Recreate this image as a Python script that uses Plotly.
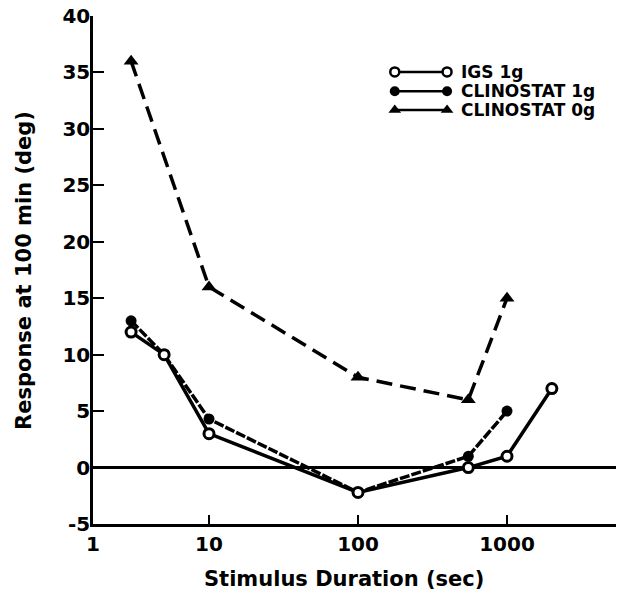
import plotly.graph_objects as go

# ---- data ----
x_igs = [3, 5, 10, 100, 550, 1000, 2000]
y_igs = [12, 10, 3, -2.2, 0, 1, 7]

x_c1 = [3, 5, 10, 100, 550, 1000]
y_c1 = [13, 10, 4.3, -2.2, 1, 5]

x_c0 = [3, 10, 100, 550, 1000]
y_c0 = [36, 16, 8, 6, 15]

legend_names = ["IGS 1g", "CLINOSTAT 1g", "CLINOSTAT 0g"]
y_ticks = [-5, 0, 5, 10, 15, 20, 25, 30, 35, 40]
y_tick_text = ["-5", "0", "5", "10", "15", "20", "25", "30", "35", "40"]
x_tick_text = ["1", "10", "100", "1000"]

FONT = "DejaVu Sans, Liberation Sans, Arial, sans-serif"
X_LO, X_HI = 0.2215, 3.7315

fig = go.Figure()

fig.add_trace(go.Scatter(
    x=x_c0, y=y_c0, mode="lines+markers", name=legend_names[2],
    line=dict(color="black", width=3.5, dash="16px,8px"),
    marker=dict(symbol="triangle-up", size=13, color="black"),
))
fig.add_trace(go.Scatter(
    x=x_c1, y=y_c1, mode="lines+markers", name=legend_names[1],
    line=dict(color="black", width=3.5, dash="10px,2px"),
    marker=dict(symbol="circle", size=11, color="black"),
))
fig.add_trace(go.Scatter(
    x=x_igs, y=y_igs, mode="lines+markers", name=legend_names[0],
    line=dict(color="black", width=3.5),
    marker=dict(symbol="circle", size=10, color="white",
                line=dict(color="black", width=3)),
))

# ---- hand-made legend (o—o style) on a hidden overlay axis ----
leg_rows = [0.890, 0.852, 0.815]
leg_x0, leg_x1, leg_tx = 0.577, 0.677, 0.700
leg_markers = [
    dict(symbol="circle", size=9, color="white", line=dict(color="black", width=2.5)),
    dict(symbol="circle", size=10, color="black"),
    dict(symbol="triangle-up", size=11, color="black"),
]
for yr, mk, nm in zip(leg_rows, leg_markers, legend_names):
    fig.add_trace(go.Scatter(
        x=[leg_x0, leg_x1], y=[yr, yr], xaxis="x2", yaxis="y2",
        mode="lines+markers", line=dict(color="black", width=2.5),
        marker=mk, showlegend=False, hoverinfo="skip",
    ))
    fig.add_annotation(
        x=leg_tx, y=yr, xref="paper", yref="paper", text=nm,
        showarrow=False, xanchor="left", yanchor="middle",
        font=dict(family=FONT, size=17, color="black", weight="bold"),
    )

# axis titles as annotations for exact placement
fig.add_annotation(
    x=0.48, y=-0.108, xref="paper", yref="paper", yanchor="middle",
    text="Stimulus Duration (sec)", showarrow=False,
    font=dict(family=FONT, size=21, color="black", weight="bold"),
)
fig.add_annotation(
    x=-0.132, y=0.5, xref="paper", yref="paper", xanchor="center",
    text="Response at 100 min (deg)", showarrow=False, textangle=-90,
    font=dict(family=FONT, size=21, color="black", weight="bold"),
)

fig.update_layout(
    width=617, height=603,
    margin=dict(l=93, r=1, t=16, b=79),
    paper_bgcolor="white", plot_bgcolor="white",
    showlegend=False,
    font=dict(family=FONT, color="black"),
    xaxis=dict(
        type="log", range=[X_LO, X_HI], automargin=False,
        tickvals=[10 ** X_LO, 10, 100, 1000], ticktext=x_tick_text,
        ticks="inside", ticklen=9, tickwidth=2, tickcolor="black",
        showline=True, linecolor="black", linewidth=2.5,
        showgrid=False, zeroline=False,
        tickfont=dict(family=FONT, size=20, color="black", weight="bold"),
    ),
    yaxis=dict(
        range=[-5, 40], tickvals=y_ticks, ticktext=y_tick_text, automargin=False,
        ticks="inside", ticklen=11, tickwidth=2, tickcolor="black",
        showline=True, linecolor="black", linewidth=2.5,
        showgrid=False, ticklabelstandoff=-4,
        zeroline=True, zerolinecolor="black", zerolinewidth=2.5,
        tickfont=dict(family=FONT, size=20, color="black", weight="bold"),
    ),
    xaxis2=dict(overlaying="x", range=[0, 1], visible=False),
    yaxis2=dict(overlaying="y", range=[0, 1], visible=False),
)

fig.write_html(
    "out.html",
    config={"displayModeBar": False},
    post_script="document.body.style.margin='0';"
                "document.body.style.overflow='hidden';"
                "document.documentElement.style.overflow='hidden';",
)
